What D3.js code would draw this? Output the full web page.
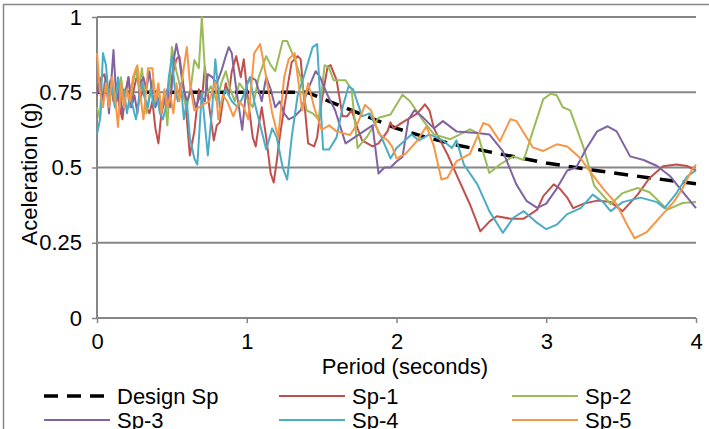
<!DOCTYPE html>
<html>
<head>
<meta charset="utf-8">
<script src="https://cdn.jsdelivr.net/npm/d3@7"></script>
<style>
  body { margin: 0; background: #fff; }
  text { font-family: "Liberation Sans", Arial, sans-serif; fill: #000; }
</style>
</head>
<body>
<svg id="chart" width="709" height="429"></svg>
<script>
// design spectrum
var designSp = [[0,0.75],[1.4,0.75],[1.6,0.71],[1.8,0.67],[2.0,0.63],[2.2,0.6],[2.4,0.575],[2.66,0.548],[3.0,0.515],[3.33,0.49],[3.67,0.467],[4.0,0.446]];

var sp1 = [[0,0.76],[0.03,0.8],[0.05,0.81],[0.07,0.74],[0.09,0.79],[0.11,0.72],[0.13,0.78],[0.15,0.7],[0.17,0.66],[0.19,0.75],[0.21,0.8],[0.23,0.72],[0.25,0.77],[0.27,0.81],[0.29,0.73],[0.31,0.76],[0.33,0.7],[0.35,0.68],[0.37,0.72],[0.39,0.63],[0.41,0.58],[0.43,0.68],[0.45,0.74],[0.47,0.7],[0.49,0.78],[0.51,0.82],[0.53,0.86],[0.55,0.87],[0.57,0.8],[0.59,0.72],[0.62,0.54],[0.65,0.62],[0.68,0.76],[0.7,0.72],[0.72,0.835],[0.75,0.7],[0.78,0.59],[0.8,0.64],[0.82,0.65],[0.84,0.72],[0.86,0.78],[0.88,0.74],[0.9,0.82],[0.93,0.87],[0.96,0.8],[0.98,0.86],[1.01,0.72],[1.04,0.6],[1.06,0.57],[1.08,0.64],[1.1,0.7],[1.13,0.6],[1.16,0.48],[1.18,0.45],[1.2,0.52],[1.22,0.6],[1.25,0.7],[1.28,0.79],[1.3,0.85],[1.34,0.87],[1.36,0.86],[1.38,0.74],[1.41,0.58],[1.45,0.57],[1.47,0.6],[1.5,0.72],[1.54,0.835],[1.56,0.84],[1.6,0.79],[1.64,0.67],[1.67,0.67],[1.7,0.69],[1.74,0.63],[1.77,0.59],[1.84,0.57],[1.88,0.58],[1.94,0.62],[1.96,0.65],[1.98,0.63],[2.04,0.65],[2.14,0.68],[2.19,0.71],[2.22,0.69],[2.25,0.63],[2.34,0.544],[2.42,0.455],[2.49,0.378],[2.56,0.288],[2.62,0.32],[2.67,0.338],[2.76,0.33],[2.85,0.33],[2.94,0.36],[2.98,0.405],[3.05,0.444],[3.09,0.43],[3.14,0.4],[3.18,0.365],[3.25,0.38],[3.34,0.39],[3.43,0.385],[3.51,0.355],[3.61,0.41],[3.69,0.465],[3.78,0.504],[3.87,0.51],[3.94,0.505],[4.0,0.49]];

var sp2 = [[0,0.7],[0.02,0.66],[0.04,0.76],[0.06,0.8],[0.08,0.72],[0.1,0.78],[0.12,0.7],[0.14,0.75],[0.16,0.8],[0.18,0.73],[0.2,0.76],[0.22,0.7],[0.24,0.78],[0.26,0.83],[0.28,0.76],[0.3,0.83],[0.33,0.68],[0.35,0.74],[0.37,0.79],[0.39,0.72],[0.41,0.76],[0.43,0.7],[0.45,0.74],[0.47,0.64],[0.5,0.9],[0.53,0.82],[0.56,0.76],[0.6,0.7],[0.63,0.78],[0.65,0.857],[0.68,0.83],[0.7,1.0],[0.73,0.74],[0.76,0.77],[0.8,0.72],[0.83,0.78],[0.86,0.82],[0.89,0.76],[0.92,0.72],[0.95,0.78],[0.98,0.76],[1.0,0.73],[1.04,0.7],[1.08,0.8],[1.13,0.87],[1.16,0.84],[1.19,0.82],[1.24,0.92],[1.27,0.92],[1.32,0.86],[1.36,0.8],[1.4,0.69],[1.44,0.68],[1.48,0.66],[1.52,0.84],[1.55,0.83],[1.58,0.79],[1.62,0.79],[1.66,0.79],[1.7,0.76],[1.74,0.565],[1.8,0.6],[1.88,0.665],[1.96,0.676],[2.04,0.742],[2.09,0.72],[2.18,0.654],[2.25,0.61],[2.36,0.594],[2.49,0.627],[2.54,0.615],[2.62,0.482],[2.69,0.51],[2.78,0.537],[2.85,0.525],[2.91,0.62],[2.98,0.727],[3.03,0.745],[3.07,0.74],[3.11,0.7],[3.16,0.69],[3.25,0.565],[3.32,0.44],[3.43,0.378],[3.51,0.415],[3.61,0.432],[3.69,0.418],[3.81,0.36],[3.91,0.382],[4.0,0.385]];

var sp3 = [[0,0.74],[0.02,0.78],[0.04,0.72],[0.06,0.8],[0.08,0.68],[0.11,0.89],[0.13,0.72],[0.15,0.76],[0.17,0.68],[0.19,0.74],[0.21,0.8],[0.23,0.7],[0.25,0.74],[0.27,0.68],[0.29,0.78],[0.31,0.8],[0.33,0.76],[0.35,0.82],[0.37,0.74],[0.39,0.7],[0.41,0.73],[0.43,0.68],[0.45,0.72],[0.47,0.76],[0.49,0.7],[0.51,0.85],[0.53,0.91],[0.55,0.86],[0.57,0.78],[0.6,0.72],[0.63,0.76],[0.66,0.7],[0.69,0.74],[0.72,0.72],[0.74,0.81],[0.77,0.8],[0.8,0.78],[0.83,0.82],[0.86,0.87],[0.88,0.9],[0.9,0.88],[0.93,0.76],[0.97,0.625],[1.0,0.78],[1.03,0.8],[1.06,0.79],[1.1,0.72],[1.13,0.8],[1.16,0.76],[1.19,0.7],[1.22,0.72],[1.25,0.68],[1.28,0.66],[1.32,0.67],[1.36,0.69],[1.41,0.76],[1.46,0.82],[1.49,0.8],[1.54,0.74],[1.59,0.69],[1.66,0.58],[1.72,0.6],[1.78,0.62],[1.84,0.64],[1.88,0.48],[1.92,0.5],[1.96,0.5],[2.0,0.52],[2.04,0.535],[2.08,0.66],[2.12,0.69],[2.18,0.665],[2.25,0.63],[2.31,0.654],[2.4,0.62],[2.54,0.615],[2.62,0.61],[2.71,0.554],[2.8,0.444],[2.87,0.388],[2.94,0.366],[3.0,0.38],[3.07,0.43],[3.14,0.49],[3.2,0.5],[3.27,0.565],[3.34,0.62],[3.41,0.637],[3.47,0.62],[3.56,0.537],[3.65,0.525],[3.74,0.505],[3.83,0.47],[3.91,0.42],[4.0,0.365]];

var sp4 = [[0,0.61],[0.02,0.66],[0.04,0.88],[0.06,0.84],[0.08,0.72],[0.1,0.78],[0.12,0.7],[0.14,0.8],[0.16,0.72],[0.18,0.76],[0.2,0.68],[0.22,0.74],[0.24,0.7],[0.26,0.66],[0.28,0.72],[0.3,0.78],[0.32,0.73],[0.34,0.7],[0.36,0.76],[0.38,0.7],[0.4,0.74],[0.42,0.68],[0.44,0.66],[0.46,0.7],[0.48,0.8],[0.5,0.87],[0.52,0.76],[0.54,0.72],[0.56,0.78],[0.58,0.66],[0.6,0.72],[0.62,0.6],[0.65,0.53],[0.67,0.51],[0.7,0.75],[0.74,0.54],[0.77,0.7],[0.79,0.86],[0.82,0.7],[0.86,0.76],[0.9,0.72],[0.94,0.7],[0.98,0.74],[1.02,0.8],[1.05,0.72],[1.08,0.66],[1.13,0.56],[1.17,0.63],[1.2,0.6],[1.24,0.5],[1.27,0.46],[1.3,0.6],[1.34,0.74],[1.38,0.8],[1.44,0.9],[1.47,0.91],[1.51,0.56],[1.55,0.56],[1.6,0.6],[1.64,0.7],[1.68,0.77],[1.71,0.76],[1.77,0.67],[1.82,0.68],[1.86,0.64],[1.9,0.6],[1.96,0.53],[2.0,0.565],[2.1,0.61],[2.15,0.59],[2.22,0.61],[2.31,0.59],[2.37,0.565],[2.4,0.59],[2.45,0.51],[2.54,0.444],[2.62,0.355],[2.71,0.283],[2.78,0.333],[2.85,0.355],[2.94,0.316],[3.0,0.295],[3.07,0.31],[3.14,0.345],[3.23,0.365],[3.31,0.41],[3.38,0.385],[3.43,0.355],[3.51,0.385],[3.63,0.4],[3.74,0.385],[3.79,0.365],[3.87,0.415],[3.94,0.47],[4.0,0.49]];

var sp5 = [[0,0.88],[0.02,0.75],[0.04,0.7],[0.06,0.78],[0.08,0.7],[0.1,0.8],[0.12,0.74],[0.14,0.635],[0.16,0.78],[0.18,0.7],[0.2,0.76],[0.22,0.72],[0.24,0.8],[0.27,0.84],[0.29,0.74],[0.31,0.66],[0.33,0.76],[0.34,0.83],[0.37,0.83],[0.39,0.72],[0.41,0.78],[0.43,0.68],[0.45,0.76],[0.47,0.7],[0.49,0.74],[0.51,0.68],[0.53,0.78],[0.55,0.72],[0.57,0.8],[0.6,0.9],[0.62,0.78],[0.65,0.69],[0.68,0.7],[0.71,0.71],[0.75,0.72],[0.79,0.785],[0.81,0.66],[0.84,0.74],[0.87,0.72],[0.91,0.67],[0.95,0.72],[0.98,0.7],[1.01,0.66],[1.05,0.88],[1.09,0.91],[1.13,0.8],[1.17,0.68],[1.21,0.6],[1.25,0.8],[1.28,0.86],[1.32,0.88],[1.37,0.69],[1.41,0.78],[1.45,0.7],[1.5,0.625],[1.55,0.64],[1.6,0.62],[1.69,0.608],[1.74,0.647],[1.79,0.708],[1.83,0.69],[1.88,0.614],[1.94,0.59],[1.97,0.57],[2.0,0.53],[2.06,0.545],[2.14,0.59],[2.2,0.637],[2.25,0.57],[2.3,0.46],[2.34,0.466],[2.4,0.52],[2.49,0.545],[2.58,0.648],[2.62,0.64],[2.69,0.587],[2.76,0.66],[2.8,0.655],[2.91,0.567],[2.98,0.555],[3.07,0.577],[3.14,0.57],[3.23,0.53],[3.29,0.488],[3.38,0.43],[3.47,0.378],[3.54,0.31],[3.59,0.265],[3.67,0.285],[3.76,0.335],[3.85,0.385],[3.91,0.43],[3.97,0.49],[4.0,0.51]];

var seriesNames = ["Design Sp", "Sp-1", "Sp-2", "Sp-3", "Sp-4", "Sp-5"];
var seriesColors = ["#000000", "#C0504D", "#9BBB59", "#8064A2", "#4BACC6", "#F79646"];
var xTicks = [0, 1, 2, 3, 4];
var yTicks = [0, 0.25, 0.5, 0.75, 1];

var svg = d3.select("#chart");
var grey = "#868686";
var fontSize = "22px";
var dash = "14,9";

var plotLeft = 97, plotRight = 696, plotTop = 17, plotBottom = 318;

var x = d3.scaleLinear().domain([0, 4]).range([plotLeft, plotRight]);
var y = d3.scaleLinear().domain([0, 1]).range([plotBottom, plotTop]);

// chart border (right/bottom fall off the picture)
svg.append("path")
  .attr("d", "M3.5,429V4.5H709")
  .attr("fill", "none")
  .attr("stroke", grey)
  .attr("stroke-width", 1.5);

// gridlines
svg.append("g").selectAll("line")
  .data(yTicks.filter(function(d) { return d > 0; }))
  .enter().append("line")
    .attr("x1", plotLeft).attr("x2", plotRight)
    .attr("y1", function(d) { return y(d); })
    .attr("y2", function(d) { return y(d); })
    .attr("stroke", grey)
    .attr("stroke-width", 2);

// axes
var xAxis = d3.axisBottom(x).tickValues(xTicks).tickSize(5).tickPadding(10).tickFormat(d3.format("d"));
var yAxis = d3.axisLeft(y).tickValues(yTicks).tickSize(5).tickPadding(10).tickFormat(function(d) { return String(d); });

var gx = svg.append("g").attr("transform", "translate(0," + plotBottom + ")").call(xAxis);
var gy = svg.append("g").attr("transform", "translate(" + plotLeft + ",0)").call(yAxis);

[gx, gy].forEach(function(g) {
  g.select(".domain").attr("stroke", grey).attr("stroke-width", 2);
  g.selectAll(".tick line").attr("stroke", grey).attr("stroke-width", 1.5);
  g.selectAll(".tick text")
    .style("font-size", fontSize)
    .style("font-family", "'Liberation Sans', Arial, sans-serif")
    .attr("fill", "#000");
});
gx.select(".domain").attr("d", "M" + plotLeft + ",0H" + plotRight);
gy.select(".domain").attr("d", "M0," + plotTop + "V" + plotBottom);

// axis titles
svg.append("text")
  .attr("x", 405).attr("y", 374)
  .attr("text-anchor", "middle")
  .style("font-size", fontSize)
  .text("Period (seconds)");

svg.append("text")
  .attr("transform", "translate(37,174) rotate(-90)")
  .attr("text-anchor", "middle")
  .style("font-size", fontSize)
  .text("Aceleration (g)");

// lines
var line = d3.line()
  .x(function(d) { return x(d[0]); })
  .y(function(d) { return y(d[1]); });

var allSeries = [designSp, sp1, sp2, sp3, sp4, sp5];

svg.append("g").selectAll("path")
  .data(allSeries)
  .enter().append("path")
    .attr("d", line)
    .attr("fill", "none")
    .attr("stroke", function(d, i) { return seriesColors[i]; })
    .attr("stroke-width", function(d, i) { return i === 0 ? 3.5 : 2; })
    .attr("stroke-dasharray", function(d, i) { return i === 0 ? dash : null; })
    .attr("stroke-linejoin", "round");

// legend
var legCols = [44, 279, 512];
var legRows = [396, 420];
var legend = svg.append("g").selectAll("g")
  .data(seriesNames)
  .enter().append("g")
    .attr("transform", function(d, i) {
      return "translate(" + legCols[i % 3] + "," + legRows[Math.floor(i / 3)] + ")";
    });

legend.append("line")
  .attr("x1", 0).attr("x2", 66)
  .attr("stroke", function(d, i) { return seriesColors[i]; })
  .attr("stroke-width", function(d, i) { return i === 0 ? 3.5 : 2; })
  .attr("stroke-dasharray", function(d, i) { return i === 0 ? dash : null; });

legend.append("text")
  .attr("x", 73).attr("dy", "0.35em")
  .style("font-size", fontSize)
  .text(function(d) { return d; });
</script>
</body>
</html>
